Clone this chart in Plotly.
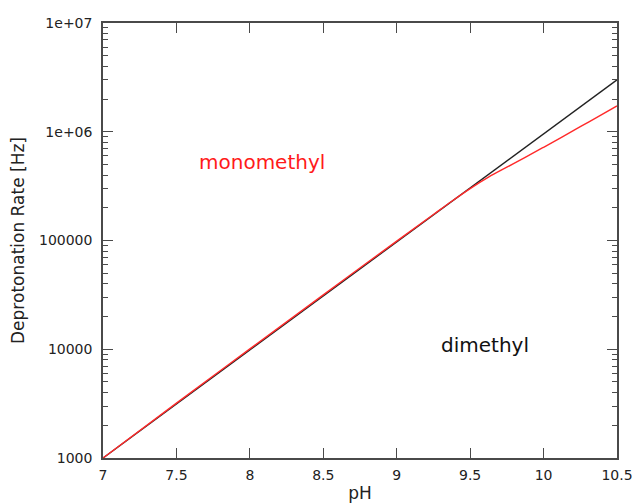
import plotly.graph_objects as go

# pH scan and deprotonation rates
ph_dimethyl = [7.0, 10.5]
rate_dimethyl = [1000, 3.0e6]

ph_monomethyl = [7.0, 7.5, 8.0, 8.5, 9.0, 9.25, 9.375, 9.5, 9.625, 9.75,
                 9.875, 10.0, 10.125, 10.25, 10.375, 10.5]
rate_monomethyl = [1000, 3197, 10079, 31630, 98810, 173500, 229800, 300200, 382500, 471900,
                   580800, 719700, 894000, 1.113e6, 1.386e6, 1.726e6]

x_ticks = [7, 7.5, 8, 8.5, 9, 9.5, 10, 10.5]
y_ticks = [1e3, 1e4, 1e5, 1e6, 1e7]
y_tick_text = ["1000", "10000", "100000", "1e+06", "1e+07"]

AXIS_COLOR = "#4a4a4a"
FONT = "DejaVu Sans"

y_minor = [m * 10 ** d for d in range(3, 7) for m in range(2, 10)]

fig = go.Figure()
fig.add_trace(go.Scatter(
    x=ph_dimethyl, y=rate_dimethyl, mode="lines",
    line=dict(color="#222222", width=1.4), name="dimethyl",
))
fig.add_trace(go.Scatter(
    x=ph_monomethyl, y=rate_monomethyl, mode="lines",
    line=dict(color="#ff2a2a", width=1.4, shape="spline", smoothing=1.0),
    name="monomethyl",
))

fig.add_annotation(x=8.082, y=5.719, xref="x", yref="y", text="monomethyl",
                   showarrow=False, font=dict(family=FONT, size=20, color="#ff1a1a"))
fig.add_annotation(x=9.60, y=4.036, xref="x", yref="y", text="dimethyl",
                   showarrow=False, font=dict(family=FONT, size=20, color="#111111"))

fig.update_layout(
    width=635, height=503,
    margin=dict(l=103, r=18, t=23, b=45),
    paper_bgcolor="white", plot_bgcolor="white",
    showlegend=False,
    font=dict(family=FONT, size=14, color="#222222"),
)

fig.update_xaxes(
    range=[7, 10.5], tickvals=x_ticks, automargin=False,
    ticks="inside", ticklen=10, tickwidth=1.2, tickcolor=AXIS_COLOR,
    showline=True, linecolor=AXIS_COLOR, linewidth=1.5, mirror="ticks",
    showgrid=False, zeroline=False,
    tickfont=dict(family=FONT, size=14, color="#222222"),
    ticklabelstandoff=3,
    title=dict(text="pH", font=dict(family=FONT, size=17, color="#222222"), standoff=6),
)
fig.update_yaxes(
    type="log", range=[3, 7], automargin=False,
    tickvals=y_ticks, ticktext=y_tick_text,
    ticks="inside", ticklen=10, tickwidth=1.2, tickcolor=AXIS_COLOR,
    minor=dict(tickvals=y_minor, ticks="inside", ticklen=5, tickwidth=1.2,
               tickcolor=AXIS_COLOR, showgrid=False),
    showline=True, linecolor=AXIS_COLOR, linewidth=1.5, mirror="ticks",
    showgrid=False, zeroline=False,
    tickfont=dict(family=FONT, size=14, color="#222222"),
    ticklabelstandoff=6,
    title=dict(text="Deprotonation Rate [Hz]", font=dict(family=FONT, size=17, color="#222222"), standoff=10),
)

fig.write_html("out.html")
